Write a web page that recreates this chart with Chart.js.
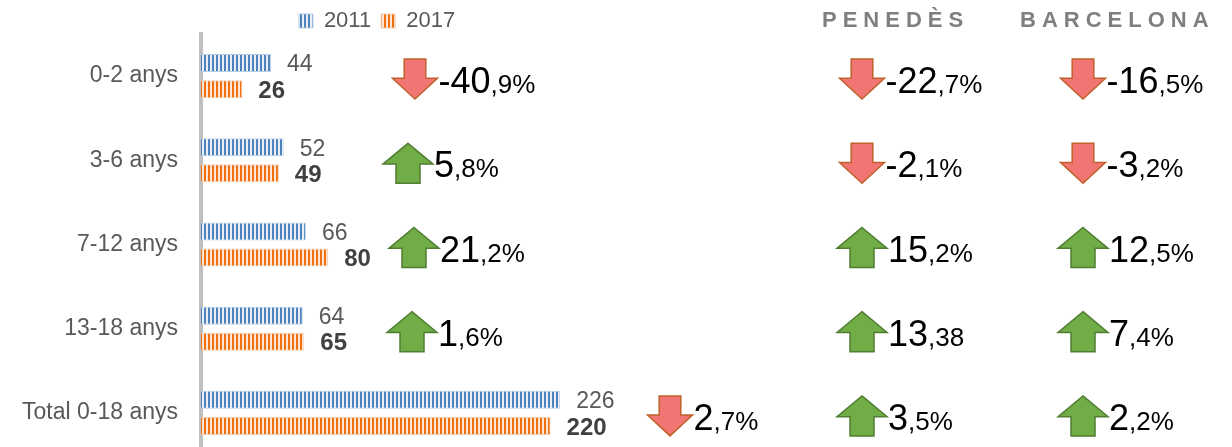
<!DOCTYPE html>
<html>
<head>
<meta charset="utf-8">
<script src="https://cdn.jsdelivr.net/npm/chart.js@4.4.1/dist/chart.umd.min.js"></script>
<style>
html, body { margin: 0; padding: 0; background: #fff; overflow: hidden; }
#wrap { width: 1232px; height: 455px; position: relative; }
</style>
</head>
<body>
<div id="wrap"><canvas id="chart"></canvas></div>
<script>
// Dades
const categories = ['0-2 anys', '3-6 anys', '7-12 anys', '13-18 anys', 'Total 0-18 anys'];
const values2011 = [44, 52, 66, 64, 226];
const values2017 = [26, 49, 80, 65, 220];
const changeLocal = ['-40,9%', '5,8%', '21,2%', '1,6%', '2,7%'];
const dirLocal = ['down', 'up', 'up', 'up', 'down'];
const changePenedes = ['-22,7%', '-2,1%', '15,2%', '13,38', '3,5%'];
const dirPenedes = ['down', 'down', 'up', 'up', 'up'];
const changeBarcelona = ['-16,5%', '-3,2%', '12,5%', '7,4%', '2,2%'];
const dirBarcelona = ['down', 'down', 'up', 'up', 'up'];

// Posicions de les columnes de variació
const localArrowX = [415, 408, 414, 412, 670];
const penedesArrowX = 862;
const barcelonaArrowX = 1083;

const FONT = "'Liberation Sans', Arial, sans-serif";
Chart.defaults.font.family = FONT;

const canvas = document.getElementById('chart');
const mainCtx = canvas.getContext('2d');

function stripes(color, gap) {
    const c = document.createElement('canvas');
    c.width = 4; c.height = 4;
    const x = c.getContext('2d');
    x.fillStyle = gap; x.fillRect(0, 0, 4, 4);
    x.fillStyle = color; x.fillRect(0, 0, 2, 4);
    return mainCtx.createPattern(c, 'repeat');
}

function drawArrow(ctx, cx, cy, dir) {
    const up = dir === 'up';
    const w = up ? 50 : 45, h = 40;
    const sw = w * 0.48, sh = h * 0.48;
    const top = cy - h / 2, bot = cy + h / 2;
    ctx.beginPath();
    if (up) {
        ctx.moveTo(cx, top);
        ctx.lineTo(cx + w / 2, top + (h - sh));
        ctx.lineTo(cx + sw / 2, top + (h - sh));
        ctx.lineTo(cx + sw / 2, bot);
        ctx.lineTo(cx - sw / 2, bot);
        ctx.lineTo(cx - sw / 2, top + (h - sh));
        ctx.lineTo(cx - w / 2, top + (h - sh));
    } else {
        ctx.moveTo(cx - sw / 2, top);
        ctx.lineTo(cx + sw / 2, top);
        ctx.lineTo(cx + sw / 2, top + sh);
        ctx.lineTo(cx + w / 2, top + sh);
        ctx.lineTo(cx, bot);
        ctx.lineTo(cx - w / 2, top + sh);
        ctx.lineTo(cx - sw / 2, top + sh);
    }
    ctx.closePath();
    ctx.fillStyle = up ? '#70ad47' : '#f07573';
    ctx.strokeStyle = up ? '#507e32' : '#c0612b';
    ctx.lineWidth = 1.5;
    ctx.fill();
    ctx.stroke();
    return w;
}

function drawChange(ctx, cx, cy, text, dir) {
    const w = drawArrow(ctx, cx, cy + 3, dir);
    const idx = text.indexOf(',');
    const big = idx >= 0 ? text.slice(0, idx) : text;
    const small = idx >= 0 ? text.slice(idx) : '';
    let x = cx + w / 2 + 1;
    const base = cy + 17;
    ctx.fillStyle = '#000';
    ctx.textAlign = 'left';
    ctx.textBaseline = 'alphabetic';
    ctx.font = '36px ' + FONT;
    ctx.fillText(big, x, base);
    x += ctx.measureText(big).width;
    ctx.font = '26px ' + FONT;
    ctx.fillText(small, x, base);
}

function drawSpaced(ctx, text, x, y, spacing) {
    for (const ch of text) {
        ctx.fillText(ch, x, y);
        x += ctx.measureText(ch).width + spacing;
    }
}

const extrasPlugin = {
    id: 'extras',
    afterDatasetsDraw(chart) {
        const ctx = chart.ctx;
        ctx.save();
        // etiquetes de valor
        chart.data.datasets.forEach((ds, di) => {
            const meta = chart.getDatasetMeta(di);
            meta.data.forEach((bar, i) => {
                ctx.font = (di === 1 ? 'bold 24px ' : '23px ') + FONT;
                ctx.fillStyle = di === 1 ? '#404040' : '#595959';
                ctx.textAlign = 'left';
                ctx.textBaseline = 'middle';
                ctx.fillText(String(ds.data[i]), bar.x + 16, bar.y + 2);
            });
        });
        // variacions
        const yScale = chart.scales.y;
        categories.forEach((c, i) => {
            const cy = yScale.getPixelForValue(i);
            drawChange(ctx, localArrowX[i], cy, changeLocal[i], dirLocal[i]);
            drawChange(ctx, penedesArrowX, cy, changePenedes[i], dirPenedes[i]);
            drawChange(ctx, barcelonaArrowX, cy, changeBarcelona[i], dirBarcelona[i]);
        });
        // capçaleres
        ctx.font = 'bold 22px ' + FONT;
        ctx.fillStyle = '#7f7f7f';
        ctx.textAlign = 'left';
        ctx.textBaseline = 'alphabetic';
        drawSpaced(ctx, 'PENEDÈS', 822, 27, 6);
        drawSpaced(ctx, 'BARCELONA', 1020, 27, 6);
        ctx.restore();
    }
};

new Chart(mainCtx, {
    type: 'bar',
    data: {
        labels: categories,
        datasets: [{
            label: '2011',
            data: values2011,
            backgroundColor: stripes('#4f81bd', '#e9eff8'),
            borderColor: '#b9cde5',
            borderWidth: 1,
            categoryPercentage: 0.62,
            barPercentage: 0.69
        }, {
            label: '2017',
            data: values2017,
            backgroundColor: stripes('#ef7010', '#fde6d6'),
            borderColor: '#f8cbad',
            borderWidth: 1,
            categoryPercentage: 0.62,
            barPercentage: 0.69
        }]
    },
    options: {
        indexAxis: 'y',
        responsive: true,
        maintainAspectRatio: false,
        animation: false,
        layout: { padding: { top: 0, left: 0, right: 478, bottom: 0 } },
        plugins: {
            legend: {
                position: 'top',
                maxHeight: 34,
                labels: { boxWidth: 14, boxHeight: 14, padding: 10, color: '#595959', font: { size: 22 } }
            },
            tooltip: { enabled: false }
        },
        scales: {
            x: { display: false, min: 0, max: 348 },
            y: {
                grid: { display: false, drawTicks: false },
                border: { display: true, color: '#bfbfbf', width: 4 },
                ticks: { color: '#595959', font: { size: 23 }, padding: 23 },
                afterFit: s => { s.width = 201; s.paddingTop = 0; s.paddingBottom = 0; }
            }
        }
    },
    plugins: [extrasPlugin]
});
</script>
</body>
</html>
